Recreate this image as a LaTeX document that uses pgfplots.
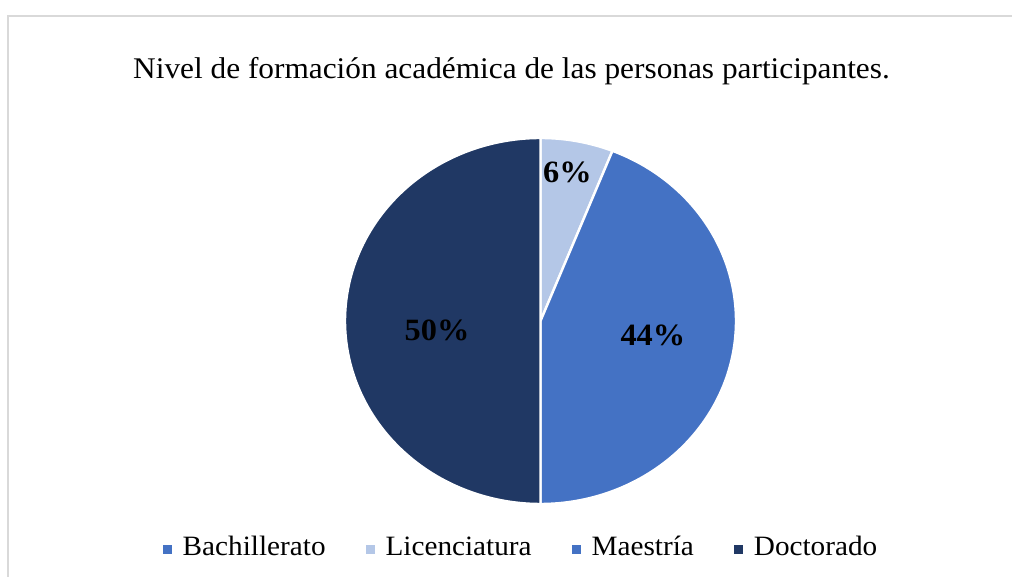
\documentclass[border=0pt]{standalone}
\usepackage{fontspec}
\setmainfont{Liberation Serif}[FakeStretch=1.044]
\usepackage{pgfplots}
\pgfplotsset{compat=1.18}
\definecolor{cBach}{HTML}{4472C4}
\definecolor{cLic}{HTML}{B4C7E7}
\definecolor{cMae}{HTML}{4472C4}
\definecolor{cDoc}{HTML}{203864}
\definecolor{frame}{HTML}{D9D9D9}
% shares in percent
\def\pB{0}\def\pL{6}\def\pM{44}\def\pD{50}
\begin{document}
\begin{tikzpicture}[x=0.5pt,y=0.5pt]
\useasboundingbox (0,0) rectangle (1012,577);
\draw[frame, line width=1.2pt] (8,0) -- (8,561) -- (1012,561);
\node[anchor=base, inner sep=0pt, font=\fontsize{15}{18}\selectfont] at (511.5,498)
  {Nivel de formación académica de las personas participantes.};
\begin{axis}[
  at={(270.25pt,128pt)}, anchor=center,
  width=195.5pt, height=183pt, scale only axis,
  hide axis, clip=false,
  xmin=-1, xmax=1, ymin=-1, ymax=1,
  legend columns=4,
  legend image code/.code={\fill[#1, draw=none] (0pt,-2.25pt) rectangle (4.5pt,2.25pt);},
  legend style={draw=none, fill=none, at={(0.4476,-0.125)}, anchor=center,
    font=\fontsize{14}{16}\selectfont,
    nodes={inner sep=0pt, text height=1.6ex, text depth=0.25ex},
    /tikz/every odd column/.append style={column sep=5.5pt},
    /tikz/every even column/.append style={column sep=20pt}},
  slice/.style={draw=white, line width=1.2pt, line join=round},
]
\addlegendimage{fill=cBach}\addlegendentry{Bachillerato}
\addlegendimage{fill=cLic}\addlegendentry{Licenciatura}
\addlegendimage{fill=cMae}\addlegendentry{Maestría}
\addlegendimage{fill=cDoc}\addlegendentry{Doctorado}
% slices run clockwise from the top
\addplot[slice, fill=cLic, forget plot, domain={90-3.6*\pL}:90, samples=30]
  ({cos(x)},{sin(x)}) -- (axis cs:0,0) -- cycle;
\addplot[slice, fill=cMae, forget plot, domain={90-3.6*(\pL+\pM)}:{90-3.6*\pL}, samples=120]
  ({cos(x)},{sin(x)}) -- (axis cs:0,0) -- cycle;
\addplot[slice, fill=cDoc, forget plot, domain={90-3.6*(\pL+\pM+\pD)}:{90-3.6*(\pL+\pM)}, samples=120]
  ({cos(x)},{sin(x)}) -- (axis cs:0,0) -- cycle;
\node[font=\fontsize{15.5}{18}\selectfont\bfseries] at (axis cs:0.138,0.814) {6\%};
\node[font=\fontsize{15.5}{18}\selectfont\bfseries] at (axis cs:0.575,-0.077) {44\%};
\node[font=\fontsize{15.5}{18}\selectfont\bfseries] at (axis cs:-0.529,-0.052) {50\%};
\end{axis}
\end{tikzpicture}
\end{document}
